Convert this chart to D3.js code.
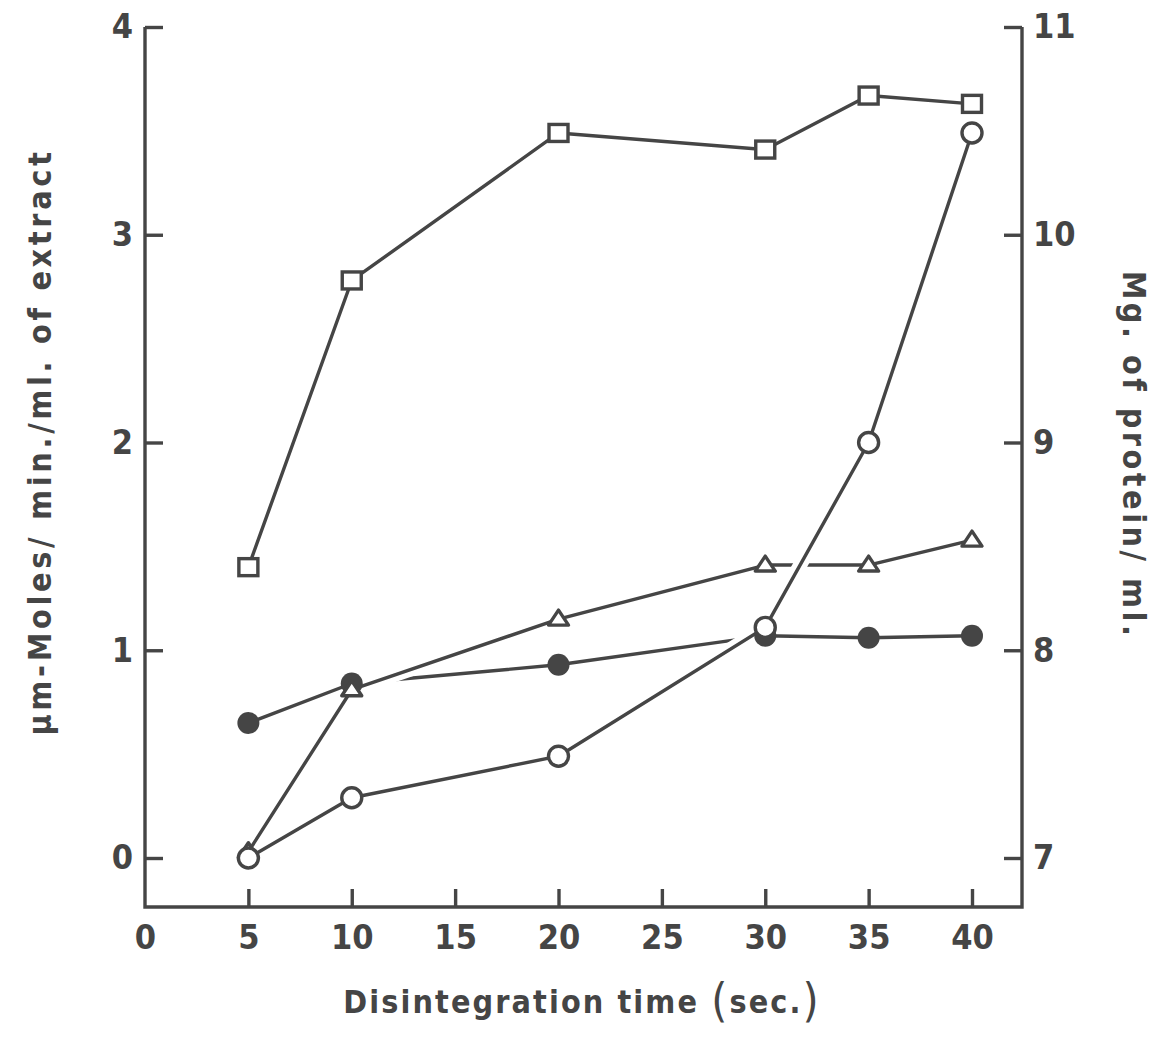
<!DOCTYPE html>
<html><head><meta charset="utf-8">
<script src="https://cdn.jsdelivr.net/npm/d3@7"></script>
<style>
html,body{margin:0;padding:0;background:#fff;}
svg{display:block;}
text{font-family:"DejaVu Sans Condensed","DejaVu Sans",sans-serif;fill:#454545;font-weight:bold;}
</style></head>
<body><svg id="chart" width="1161" height="1042"></svg>
<script>
// ---- data ----
const xTicks = [0, 5, 10, 15, 20, 25, 30, 35, 40];
const yLeftTicks = [0, 1, 2, 3, 4];
const yRightTicks = [7, 8, 9, 10, 11];
const times = [5, 10, 20, 30, 35, 40];
const squares = [1.40, 2.78, 3.49, 3.41, 3.67, 3.63];       // left axis
const openCircles = [0, 0.29, 0.49, 1.11, 2.00, 3.49];      // left axis
const triangles = [0.03, 0.81, 1.15, 1.41, 1.41, 1.53];     // left axis
const filledCircles = [7.65, 7.84, 7.93, 8.07, 8.06, 8.07]; // right axis
const xTitle = "Disintegration time ";
const yLeftTitle = "µm-Moles/ min./ml. of extract";
const yRightTitle = "Mg. of protein/ ml.";

// ---- layout ----
const ink = "#454545";
const svg = d3.select("#chart");
const x = d3.scaleLinear().domain([0, 40]).range([145, 972]);
const yL = d3.scaleLinear().domain([0, 4]).range([858, 27]);
const yR = d3.scaleLinear().domain([7, 11]).range([858, 27]);
const frameBottom = 907, frameRight = 1022;
const tick = 18;
const sw = 3.4;

// frame
svg.append("path")
  .attr("d", `M${x(0)},${yL(4)}V${frameBottom}H${frameRight}V${yR(11)}`)
  .attr("fill", "none").attr("stroke", ink).attr("stroke-width", sw);

const gl = svg.append("g").attr("transform", `translate(${x(0)},0)`)
  .call(d3.axisLeft(yL).tickValues(yLeftTicks).tickSize(-tick).tickPadding(12).tickFormat(d3.format("d")));
const gr = svg.append("g").attr("transform", `translate(${frameRight},0)`)
  .call(d3.axisRight(yR).tickValues(yRightTicks).tickSize(-tick).tickPadding(11).tickFormat(d3.format("d")));
const gx = svg.append("g").attr("transform", `translate(0,${frameBottom})`)
  .call(d3.axisBottom(x).tickValues(xTicks).tickSize(-tick).tickPadding(18).tickFormat(d3.format("d")));

[gl, gr, gx].forEach(g => {
  g.select(".domain").remove();
  g.selectAll(".tick line").attr("stroke", ink).attr("stroke-width", sw);
  g.selectAll(".tick text").attr("font-size", 34).attr("fill", ink)
   .attr("font-family", '"DejaVu Sans Condensed","DejaVu Sans",sans-serif').attr("font-weight", "bold");
});
gx.selectAll(".tick").filter(d => d === 0).select("line").remove();

// series
const series = [
  {name: "filled", vals: filledCircles, y: yR, halo: false},
  {name: "triangle", vals: triangles, y: yL, halo: true},
  {name: "open", vals: openCircles, y: yL, halo: true},
  {name: "square", vals: squares, y: yL, halo: false}
];
const lineGen = (s) => d3.line().x((d, i) => x(times[i])).y(d => s.y(d))(s.vals);

series.forEach(s => {
  if (s.halo) {
    svg.append("path").attr("d", lineGen(s)).attr("fill", "none")
      .attr("stroke", "#fff").attr("stroke-width", 14);
  }
  svg.append("path").attr("d", lineGen(s)).attr("fill", "none")
    .attr("stroke", ink).attr("stroke-width", sw).attr("stroke-linejoin", "round");
});

// markers
["filled", "triangle", "open", "square"].forEach(name => {
  const s = series.find(d => d.name === name);
  const g = svg.append("g");
  s.vals.forEach((v, i) => {
    const cx = x(times[i]), cy = s.y(v);
    if (name === "filled") {
      g.append("circle").attr("cx", cx).attr("cy", cy).attr("r", 11).attr("fill", ink);
    } else if (name === "open") {
      g.append("circle").attr("cx", cx).attr("cy", cy).attr("r", 10)
        .attr("fill", "#fff").attr("stroke", ink).attr("stroke-width", sw);
    } else if (name === "square") {
      g.append("rect").attr("x", cx - 9.5).attr("y", cy - 8.5).attr("width", 19).attr("height", 17)
        .attr("fill", "#fff").attr("stroke", ink).attr("stroke-width", sw);
    } else {
      const h = 15, w = 20;
      g.append("path")
        .attr("d", `M${cx},${cy - h * 0.6}L${cx + w / 2},${cy + h * 0.4}L${cx - w / 2},${cy + h * 0.4}Z`)
        .attr("fill", "#fff").attr("stroke", ink).attr("stroke-width", sw).attr("stroke-linejoin", "round");
    }
  });
});

// titles
const xt = svg.append("text").attr("x", 582).attr("y", 1013).attr("text-anchor", "middle")
  .attr("font-size", 32).attr("letter-spacing", 2.1);
xt.append("tspan").text(xTitle);
xt.append("tspan").attr("font-size", 46).attr("font-weight", "normal").attr("dy", 3).text("(");
xt.append("tspan").attr("dy", -3).text("sec.");
xt.append("tspan").attr("font-size", 46).attr("font-weight", "normal").attr("dy", 3).text(")");

svg.append("text").attr("transform", "translate(51,442) rotate(-90)").attr("text-anchor", "middle")
  .attr("font-size", 32).attr("letter-spacing", 3.7).text(yLeftTitle);
svg.append("text").attr("transform", "translate(1123,455) rotate(90)").attr("text-anchor", "middle")
  .attr("font-size", 32).attr("letter-spacing", 3.5).text(yRightTitle);
</script></body></html>
